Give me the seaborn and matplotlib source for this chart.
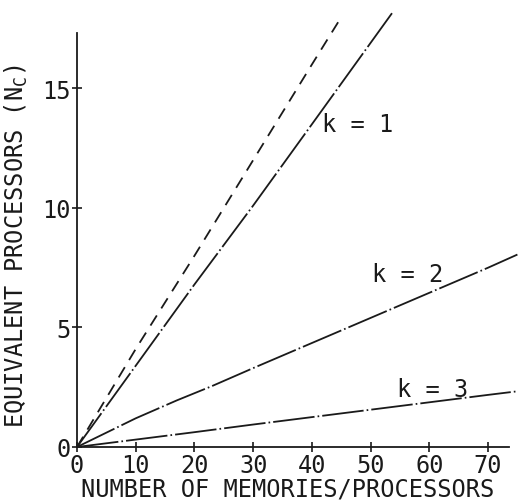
import matplotlib
matplotlib.use("Agg")
import matplotlib.pyplot as plt
import seaborn as sns
import numpy as np

# ---- data ----
upper_x = [0, 10, 20, 30, 40, 44.8]
upper_y = [0, 4.1, 8.0, 12.0, 16.0, 17.9]          # dashed bound

k1_x = [0, 10, 20, 30, 40, 53.8]
k1_y = [0, 3.4, 6.8, 10.1, 13.5, 18.2]

k2_x = [0, 5, 10, 17, 23, 30, 40, 50, 60, 70, 75]
k2_y = [0, 0.6, 1.2, 1.95, 2.55, 3.3, 4.35, 5.4, 6.45, 7.5, 8.05]

k3_x = [0, 10, 20, 30, 40, 50, 60, 70, 75]
k3_y = [0, 0.31, 0.62, 0.94, 1.25, 1.56, 1.87, 2.18, 2.33]

x_ticks = [0, 10, 20, 30, 40, 50, 60, 70]
y_ticks = [0, 5, 10, 15]
labels = ["k = 1", "k = 2", "k = 3"]

sns.set_style("ticks")
plt.rcParams["font.family"] = ["DejaVu Sans Mono", "DejaVu Sans"]
plt.rcParams["lines.scale_dashes"] = False

fig = plt.figure(figsize=(5.18, 5.02), dpi=100)
ax = fig.add_axes([77/518, 54/502, 441/518, 448/502])

ink = "#1a1a1a"
lw = 1.3
solid_ls = (0, (30, 2.2, 1.2, 2.2))
sns.lineplot(x=upper_x, y=upper_y, ax=ax, color=ink, lw=lw, linestyle=(0, (8.6, 6)))
sns.lineplot(x=k1_x, y=k1_y, ax=ax, color=ink, lw=lw, linestyle=solid_ls)
sns.lineplot(x=k2_x, y=k2_y, ax=ax, color=ink, lw=lw, linestyle=solid_ls)
sns.lineplot(x=k3_x, y=k3_y, ax=ax, color=ink, lw=lw, linestyle=solid_ls)

ax.set_xlim(0, 75.1)
ax.set_ylim(0, 18.74)
ax.set_xticks(x_ticks)
ax.set_yticks(y_ticks)
ax.tick_params(direction="inout", length=7, width=1.2, labelsize=17, pad=1, colors=ink)
sns.despine(ax=ax)
for s in ["left", "bottom"]:
    ax.spines[s].set_linewidth(1.3)
    ax.spines[s].set_color(ink)
ax.spines["left"].set_bounds(0, 17.3)
ax.spines["bottom"].set_bounds(0, 73.5)

ax.set_xlabel("NUMBER OF MEMORIES/PROCESSORS", fontsize=17, color=ink, va="top")
ax.set_ylabel("EQUIVALENT PROCESSORS (N$_\\mathregular{C}$)", fontsize=17, color=ink)
ax.xaxis.set_label_coords(0.478, -0.065)
ax.yaxis.set_label_coords(-0.107, 0.45)

ax.text(41.7, 13.5, labels[0], fontsize=17, ha="left", va="center", color=ink)
ax.text(50.3, 7.24, labels[1], fontsize=17, ha="left", va="center", color=ink)
ax.text(54.5, 2.43, labels[2], fontsize=17, ha="left", va="center", color=ink)

fig.savefig("out.png", dpi=100)
